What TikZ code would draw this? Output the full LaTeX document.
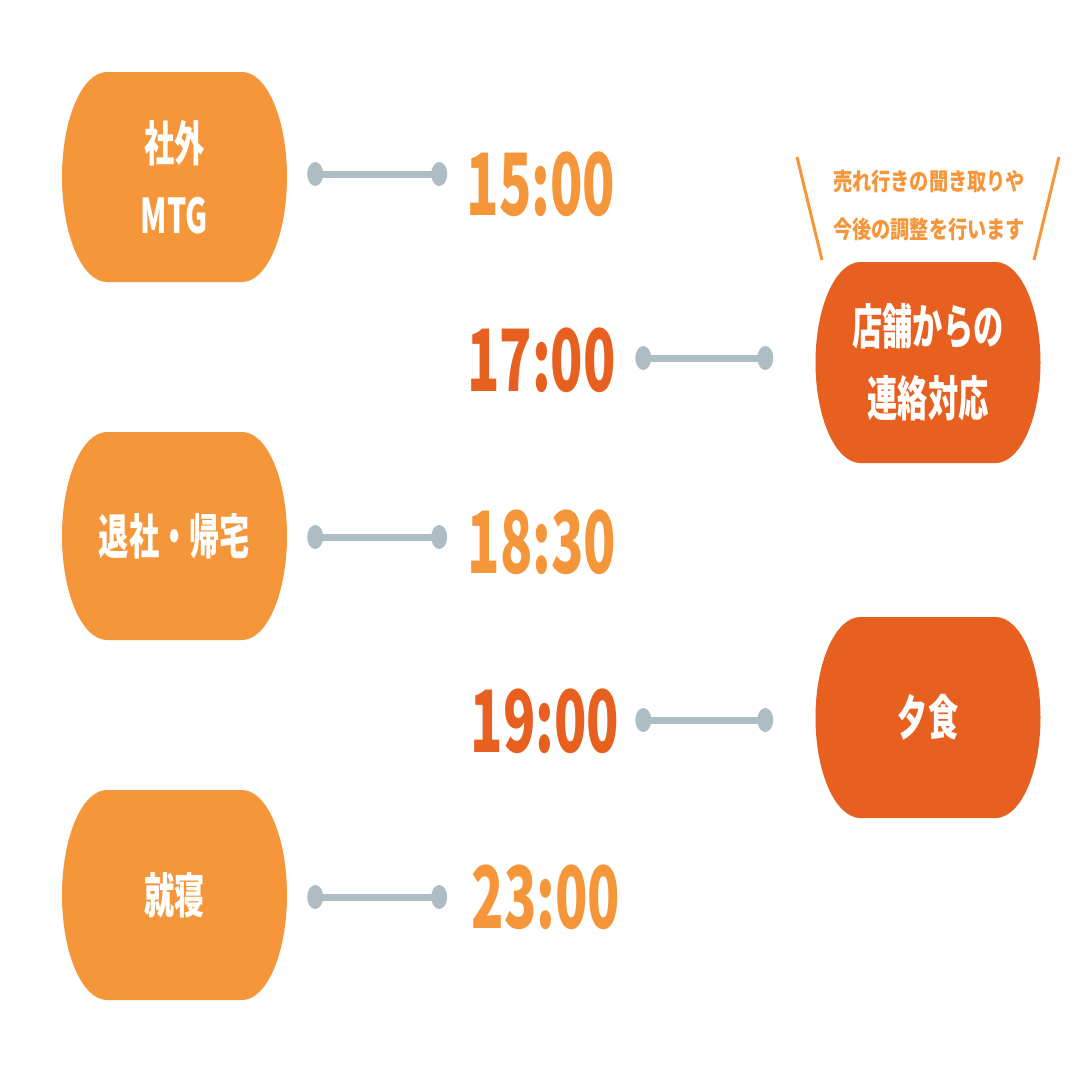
\documentclass[tikz,border=0pt]{standalone}
\usepackage{fontspec}
\newfontfamily\jpbox{Noto Sans CJK JP}[FakeStretch=0.63]
\newfontfamily\jpnote{Noto Sans CJK JP}[FakeStretch=0.8]
\newfontfamily\jptime{Noto Sans CJK JP}[FakeStretch=0.62]
\definecolor{lor}{HTML}{F5963B}
\definecolor{dor}{HTML}{E8601F}
\definecolor{gry}{HTML}{AEBCC3}
\tikzset{
  barrel/.style 2 args={minimum width=225pt, minimum height=#1, inner sep=0pt, align=center, text=white,
    font=\jpbox\bfseries\fontsize{48}{72}\selectfont,
    path picture={\fill[#2] ([xshift=45pt]path picture bounding box.north west)
      -- ([xshift=-45pt]path picture bounding box.north east)
      arc[start angle=90,end angle=-90,x radius=45pt,y radius=#1/2]
      -- ([xshift=45pt]path picture bounding box.south west)
      arc[start angle=270,end angle=90,x radius=45pt,y radius=#1/2] -- cycle;}},
  timetext/.style={inner sep=0pt, text=#1, font=\jptime\bfseries\fontsize{86}{86}\selectfont},
  conn/.style={draw=gry, line width=7pt},
  dotend/.style={fill=gry},
  slash/.style={draw=lor, line width=3pt}
}
\begin{document}
\begin{tikzpicture}[x=1pt,y=-1pt]
\useasboundingbox[fill=white] (0,0) rectangle (1080,1080);

% boxes
\node[barrel={210pt}{lor}] (b1) at (174.5,177) {\baselineskip=78pt 社外\\MTG};
\node[barrel={208pt}{lor}] (b2) at (174.5,536) {退社・帰宅};
\node[barrel={210pt}{lor}] (b3) at (174.5,895) {就寝};
\node[barrel={201pt}{dor}] (b4) at (928,362.5) {店舗からの\\連絡対応};
\node[barrel={201pt}{dor}] (b5) at (928,717.5) {夕食};

% times
\node[timetext=lor] (t1) at (541,184) {15:00};
\node[timetext=dor] (t2) at (541.5,360) {17:00};
\node[timetext=lor] (t3) at (542,542) {18:30};
\node[timetext=dor] (t4) at (545,721) {19:00};
\node[timetext=lor] (t5) at (546,897) {23:00};

% note
\node[align=center, inner sep=0pt, text=lor, font=\jpnote\bfseries\fontsize{24}{48}\selectfont] (n) at (929,205) {売れ行きの聞き取りや\\今後の調整を行います};
\draw[slash] (797,157) -- (822,260);
\draw[slash] (1059,157) -- (1034,260);

% connector end points
\coordinate (l1a) at ([xshift=28pt,yshift=3pt]b1.east);
\coordinate (l1b) at ([xshift=152pt,yshift=3pt]b1.east);
\coordinate (l2a) at ([xshift=28pt,yshift=-1pt]b2.east);
\coordinate (l2b) at ([xshift=152pt,yshift=-1pt]b2.east);
\coordinate (l3a) at ([xshift=28pt,yshift=-2pt]b3.east);
\coordinate (l3b) at ([xshift=152pt,yshift=-2pt]b3.east);
\coordinate (r1a) at ([xshift=-172pt,yshift=4.5pt]b4.west);
\coordinate (r1b) at ([xshift=-50pt,yshift=4.5pt]b4.west);
\coordinate (r2a) at ([xshift=-172pt,yshift=-2.5pt]b5.west);
\coordinate (r2b) at ([xshift=-50pt,yshift=-2.5pt]b5.west);

\foreach \a/\b in {l1a/l1b,l2a/l2b,l3a/l3b,r1a/r1b,r2a/r2b}{
  \draw[conn] (\a) -- (\b);
  \fill[dotend] (\a) ellipse[x radius=8pt,y radius=12pt];
  \fill[dotend] (\b) ellipse[x radius=8pt,y radius=12pt];
}
\end{tikzpicture}
\end{document}
